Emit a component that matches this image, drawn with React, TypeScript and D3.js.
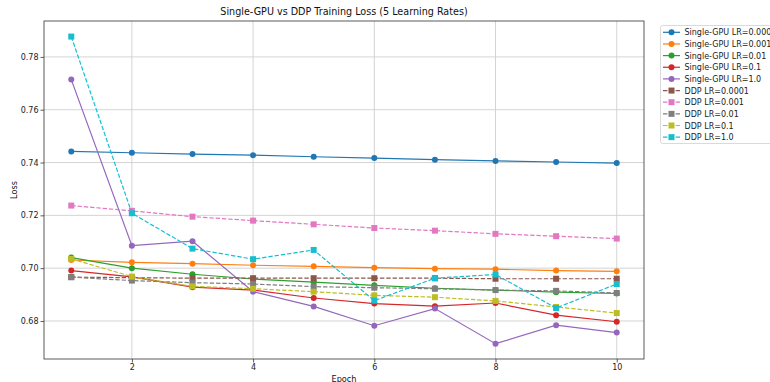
import React, { useEffect, useRef } from "react";
import * as d3 from "d3";

const epochs = [1, 2, 3, 4, 5, 6, 7, 8, 9, 10];
const xTicks = [2, 4, 6, 8, 10];
const yTicks = [0.68, 0.7, 0.72, 0.74, 0.76, 0.78];

const singleLR0001 = [0.7442, 0.7437, 0.7432, 0.7428, 0.7422, 0.7417, 0.7411, 0.7406, 0.7402, 0.7398];
const singleLR001 = [0.7031, 0.7022, 0.7017, 0.7011, 0.7007, 0.7002, 0.6998, 0.6996, 0.6991, 0.6988];
const singleLR01 = [0.704, 0.7, 0.6977, 0.6959, 0.6947, 0.6935, 0.6924, 0.6917, 0.6909, 0.6904];
const singleLR1 = [0.6991, 0.6967, 0.6928, 0.6917, 0.6887, 0.6866, 0.6856, 0.6868, 0.6822, 0.6797];
const singleLR10 = [0.7714, 0.7085, 0.7102, 0.6911, 0.6855, 0.6782, 0.6847, 0.6714, 0.6784, 0.6756];
const ddpLR0001 = [0.6966, 0.6964, 0.6962, 0.6962, 0.6962, 0.6962, 0.6962, 0.6960, 0.6960, 0.6960];
const ddpLR001 = [0.7237, 0.7217, 0.7195, 0.718, 0.7166, 0.7152, 0.7142, 0.713, 0.7121, 0.7112];
const ddpLR01 = [0.6966, 0.6953, 0.6945, 0.694, 0.693, 0.6926, 0.6922, 0.6917, 0.6914, 0.6906];
const ddpLR1 = [0.7035, 0.6968, 0.6931, 0.6922, 0.6911, 0.6897, 0.689, 0.6876, 0.6853, 0.683];
const ddpLR10 = [0.7877, 0.7208, 0.7074, 0.7034, 0.7069, 0.6877, 0.6962, 0.6976, 0.6849, 0.694];

const series = [
  { name: "Single-GPU LR=0.0001", values: singleLR0001, color: "#1f77b4", ddp: false },
  { name: "Single-GPU LR=0.001", values: singleLR001, color: "#ff7f0e", ddp: false },
  { name: "Single-GPU LR=0.01", values: singleLR01, color: "#2ca02c", ddp: false },
  { name: "Single-GPU LR=0.1", values: singleLR1, color: "#d62728", ddp: false },
  { name: "Single-GPU LR=1.0", values: singleLR10, color: "#9467bd", ddp: false },
  { name: "DDP LR=0.0001", values: ddpLR0001, color: "#8c564b", ddp: true },
  { name: "DDP LR=0.001", values: ddpLR001, color: "#e377c2", ddp: true },
  { name: "DDP LR=0.01", values: ddpLR01, color: "#7f7f7f", ddp: true },
  { name: "DDP LR=0.1", values: ddpLR1, color: "#bcbd22", ddp: true },
  { name: "DDP LR=1.0", values: ddpLR10, color: "#17becf", ddp: true },
];

const W = 770;
const H = 382;
const margin = { left: 44, right: 126, top: 21, bottom: 23 };
const font = "DejaVu Sans, sans-serif";

export default function App() {
  const ref = useRef(null);

  useEffect(() => {
    const svg = d3.select(ref.current);
    svg.selectAll("*").remove();

    const x = d3.scaleLinear().domain([0.55, 10.45]).range([margin.left, W - margin.right]);
    const y = d3.scaleLinear().domain([0.6656, 0.7936]).range([H - margin.bottom, margin.top]);

    svg.append("rect").attr("width", W).attr("height", H).attr("fill", "#fff");

    // grid
    const grid = svg.append("g");
    grid.selectAll("line.gx").data(xTicks).enter().append("line")
      .attr("x1", (d) => x(d)).attr("x2", (d) => x(d))
      .attr("y1", margin.top).attr("y2", H - margin.bottom)
      .attr("stroke", "#cfcfcf").attr("stroke-width", 0.9);
    grid.selectAll("line.gy").data(yTicks).enter().append("line")
      .attr("x1", margin.left).attr("x2", W - margin.right)
      .attr("y1", (d) => y(d)).attr("y2", (d) => y(d))
      .attr("stroke", "#cfcfcf").attr("stroke-width", 0.9);

    // axes
    const xAxis = svg.append("g")
      .attr("transform", `translate(0,${H - margin.bottom})`)
      .call(d3.axisBottom(x).tickValues(xTicks).tickFormat(d3.format("d")).tickSize(3.5).tickPadding(2));
    const yAxis = svg.append("g")
      .attr("transform", `translate(${margin.left},0)`)
      .call(d3.axisLeft(y).tickValues(yTicks).tickFormat(d3.format(".2f")).tickSize(3.5).tickPadding(2));
    [xAxis, yAxis].forEach((a) => {
      a.select(".domain").remove();
      a.selectAll("text").attr("font-family", font).attr("font-size", 8).attr("fill", "#222");
      a.selectAll("line").attr("stroke", "#333").attr("stroke-width", 0.8);
    });

    const line = d3.line().x((d, i) => x(epochs[i])).y((d) => y(d));

    const plot = svg.append("g");
    series.forEach((s) => {
      plot.append("path")
        .datum(s.values)
        .attr("d", line)
        .attr("fill", "none")
        .attr("stroke", s.color)
        .attr("stroke-width", 1.2)
        .attr("stroke-dasharray", s.ddp ? "4.4,1.9" : null);
      if (s.ddp) {
        plot.selectAll(null).data(s.values).enter().append("rect")
          .attr("x", (d, i) => x(epochs[i]) - 3)
          .attr("y", (d) => y(d) - 3)
          .attr("width", 6).attr("height", 6)
          .attr("fill", s.color);
      } else {
        plot.selectAll(null).data(s.values).enter().append("circle")
          .attr("cx", (d, i) => x(epochs[i]))
          .attr("cy", (d) => y(d))
          .attr("r", 3)
          .attr("fill", s.color);
      }
    });

    // spines
    svg.append("rect")
      .attr("x", margin.left).attr("y", margin.top)
      .attr("width", W - margin.right - margin.left)
      .attr("height", H - margin.bottom - margin.top)
      .attr("fill", "none").attr("stroke", "#333").attr("stroke-width", 0.8);

    svg.append("text")
      .attr("x", (margin.left + W - margin.right) / 2).attr("y", 15)
      .attr("text-anchor", "middle").attr("font-family", font).attr("font-size", 9.6)
      .attr("fill", "#111")
      .text("Single-GPU vs DDP Training Loss (5 Learning Rates)");
    svg.append("text")
      .attr("x", (margin.left + W - margin.right) / 2).attr("y", 382)
      .attr("text-anchor", "middle").attr("font-family", font).attr("font-size", 8.2)
      .attr("fill", "#111").text("Epoch");
    svg.append("text")
      .attr("transform", `translate(17,${(margin.top + H - margin.bottom) / 2}) rotate(-90)`)
      .attr("text-anchor", "middle").attr("font-family", font).attr("font-size", 8.2)
      .attr("fill", "#111").text("Loss");

    // legend
    const lg = svg.append("g");
    lg.append("rect")
      .attr("x", 660.5).attr("y", 25.5).attr("width", 130).attr("height", 118)
      .attr("rx", 2).attr("fill", "#fff").attr("stroke", "#d0d0d0").attr("stroke-width", 0.8);
    const rows = lg.selectAll("g.row").data(series).enter().append("g")
      .attr("transform", (d, i) => `translate(0,${32.3 + i * 11.65})`);
    rows.append("line")
      .attr("x1", 663).attr("x2", 680).attr("y1", 0).attr("y2", 0)
      .attr("stroke", (d) => d.color).attr("stroke-width", 1.2)
      .attr("stroke-dasharray", (d) => (d.ddp ? "4.4,1.9" : null));
    rows.each(function (d) {
      const g = d3.select(this);
      if (d.ddp) {
        g.append("rect").attr("x", 668.5).attr("y", -3).attr("width", 6).attr("height", 6).attr("fill", d.color);
      } else {
        g.append("circle").attr("cx", 671.5).attr("cy", 0).attr("r", 3).attr("fill", d.color);
      }
    });
    rows.append("text")
      .attr("x", 684.5).attr("y", 3)
      .attr("font-family", font).attr("font-size", 8)
      .attr("fill", "#222")
      .text((d) => d.name);
  }, []);

  return (
    <svg
      ref={ref}
      width={W}
      height={H}
      style={{ position: "absolute", left: 0, top: 0, overflow: "hidden" }}
    />
  );
}
